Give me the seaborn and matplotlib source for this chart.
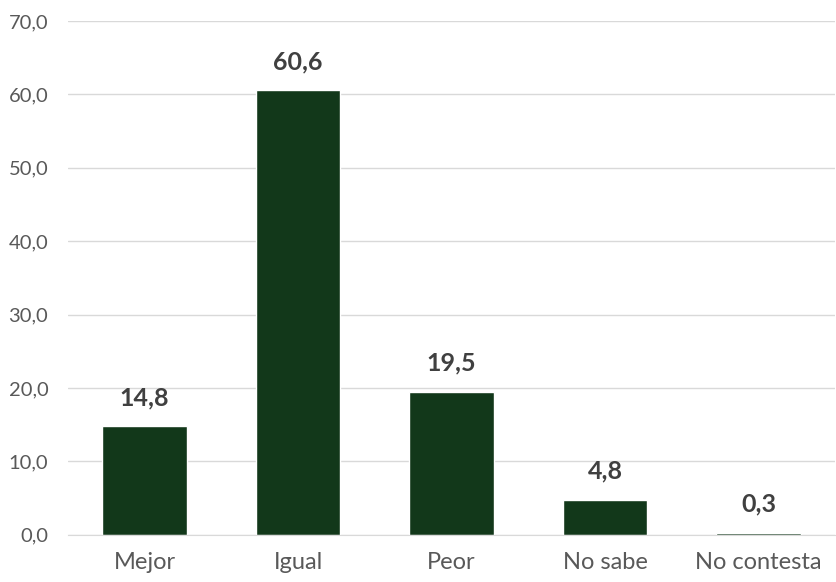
import matplotlib
matplotlib.use("Agg")
import matplotlib.pyplot as plt
import seaborn as sns
import pandas as pd
from matplotlib.ticker import FuncFormatter

categories = ["Mejor", "Igual", "Peor", "No sabe", "No contesta"]
values = [14.8, 60.6, 19.5, 4.8, 0.3]

df = pd.DataFrame({"cat": categories, "val": values})

sns.set_style("white")
plt.rcParams["font.family"] = ["Lato", "DejaVu Sans"]

fig = plt.figure(figsize=(8.37, 5.82), dpi=100)
ax = fig.add_axes([0.081, 0.081, 0.917, 0.883])
sns.barplot(data=df, x="cat", y="val", color="#12381a", saturation=1, width=0.55, ax=ax)

ax.set_ylim(0, 70)
ax.set_yticks(range(0, 71, 10))
ax.yaxis.set_major_formatter(FuncFormatter(lambda v, p: f"{v:.1f}".replace(".", ",")))
ax.grid(axis="y", color="#d9d9d9", linewidth=1)
ax.set_axisbelow(True)
for s in ["top", "right", "left"]:
    ax.spines[s].set_visible(False)
ax.spines["bottom"].set_color("#d9d9d9")
ax.set_xlabel("")
ax.set_ylabel("")
ax.tick_params(axis="y", length=0, labelsize=14.5, labelcolor="#595959", pad=14)
ax.tick_params(axis="x", length=0, labelsize=17, labelcolor="#595959", pad=12)
ax.set_xlim(-0.5, 4.5)

for i, v in enumerate(values):
    ax.text(i, v + 2.3, f"{v:.1f}".replace(".", ","), ha="center", va="bottom",
            fontsize=18, fontweight="bold", color="#404040")

fig.savefig("out.png", dpi=100)
